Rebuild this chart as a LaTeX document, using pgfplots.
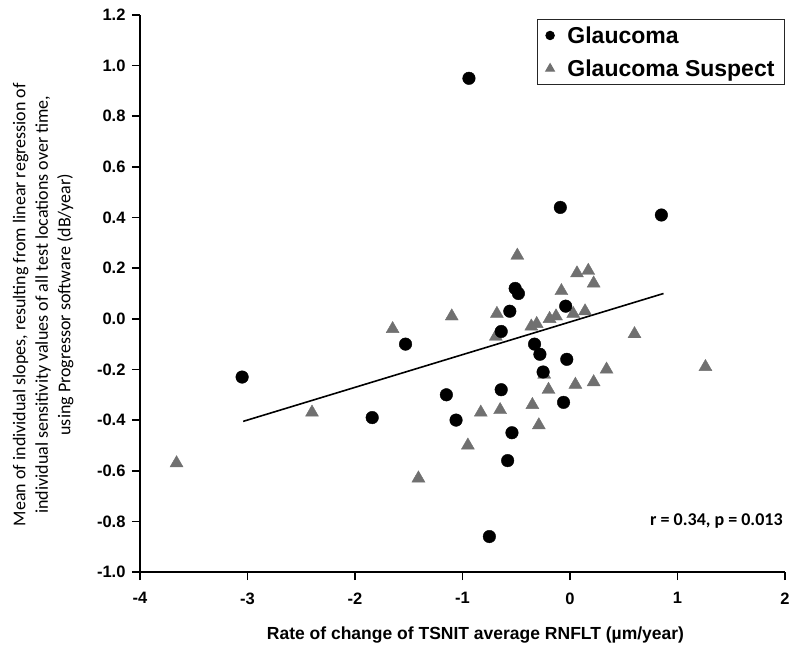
\documentclass[border=0pt]{standalone}
\usepackage{pgfplots}
\pgfplotsset{compat=1.18}
\usepackage{fontspec}
\setmainfont{Liberation Sans}
\newfontfamily\calibri{Carlito}
\definecolor{tri}{RGB}{112,112,112}
\begin{document}
\begin{tikzpicture}[x=1pt,y=1pt]
\path[use as bounding box] (-140,-82) rectangle (660,572);
\begin{axis}[
  at={(0,0)}, anchor=south west,
  scale only axis, width=645pt, height=557pt,
  xmin=-4, xmax=2, ymin=-1.0, ymax=1.2,
  axis lines*=left,
  axis line style={line width=1.6pt, black},
  xtick={-4,-3,...,2},
  ytick={-1.0,-0.8,...,1.21},
  tick align=outside,
  major tick length=8pt,
  every tick/.style={black, line width=1.6pt},
  /pgf/number format/assume math mode=true,
  tick label style={font=\bfseries\fontsize{16.5}{19}\selectfont},
  yticklabel style={xshift=-3pt, /pgf/number format/.cd, fixed, fixed zerofill, precision=1},
  xticklabel style={yshift=-9pt, /pgf/number format/.cd, fixed, precision=0},
  xlabel={Rate of change of TSNIT average RNFLT (µm/year)},
  xlabel style={font=\bfseries\fontsize{17.5}{20}\selectfont, at={(axis description cs:0.5,0)}, anchor=center, yshift=-63pt, xshift=13pt},
  ylabel={Mean of individual slopes, resulting from linear regression of\\individual sensitivity values of all test locations over time,\\using Progressor software (dB/year)},
  ylabel style={font=\calibri\fontsize{18}{22.5}\selectfont, align=center, at={(axis description cs:-0.150,0.48)}, anchor=center},
  legend style={at={(rel axis cs:1,0.993)}, anchor=north east, draw=black!85, line width=1pt,
    font=\bfseries\fontsize{23}{26}\selectfont, row sep=11pt, inner xsep=8pt, inner ysep=5pt,
    cells={anchor=west}},
  legend cell align=left,
  clip=false,
]
\addlegendimage{only marks, mark=*, mark size=4.2pt, black}
\addlegendentry{\hspace{11pt}Glaucoma}
\addlegendimage{only marks, mark=triangle*, mark size=5pt, tri, mark options={fill=tri, draw=tri}}
\addlegendentry{\hspace{11pt}Glaucoma Suspect}

% regression line
\addplot[black, line width=1.6pt, forget plot] coordinates {(-3.04,-0.405) (0.87,0.10)};

% Glaucoma Suspect
\addplot[only marks, mark=triangle*, mark size=7.5pt, tri, mark options={fill=tri, draw=tri}, forget plot] coordinates {
(-3.66,-0.57) (-2.40,-0.37) (-1.65,-0.04) (-1.10,0.01) (-1.41,-0.63) (-0.95,-0.50)
(-0.68,0.02) (-0.69,-0.07) (-0.83,-0.37) (-0.65,-0.36) (-0.35,-0.34) (-0.29,-0.42)
(-0.36,-0.03) (-0.31,-0.02) (-0.19,0.00) (-0.13,0.01) (0.03,0.02) (0.14,0.03)
(-0.24,-0.22) (-0.20,-0.28) (0.05,-0.26) (0.22,-0.25) (0.34,-0.20) (0.60,-0.06)
(1.26,-0.19) (-0.08,0.11) (0.22,0.14) (-0.49,0.25) (0.065,0.18) (0.17,0.19)
};

% Glaucoma
\addplot[only marks, mark=*, mark size=6.3pt, black, forget plot] coordinates {
(-3.05,-0.23) (-1.84,-0.39) (-1.53,-0.10) (-0.94,0.95) (-1.15,-0.30) (-1.06,-0.40)
(-0.64,-0.05) (-0.64,-0.28) (-0.56,0.03) (-0.51,0.12) (-0.48,0.10) (-0.58,-0.56)
(-0.54,-0.45) (-0.75,-0.86) (-0.33,-0.10) (-0.28,-0.14) (-0.25,-0.21) (-0.09,0.44)
(-0.04,0.05) (-0.03,-0.16) (-0.06,-0.33) (0.85,0.41)
};

\node[anchor=east, font=\calibri\bfseries\fontsize{18}{20}\selectfont, inner sep=0pt] at (axis cs:1.98,-0.80) {r = 0.34, p = 0.013};
\end{axis}
\end{tikzpicture}
\end{document}
